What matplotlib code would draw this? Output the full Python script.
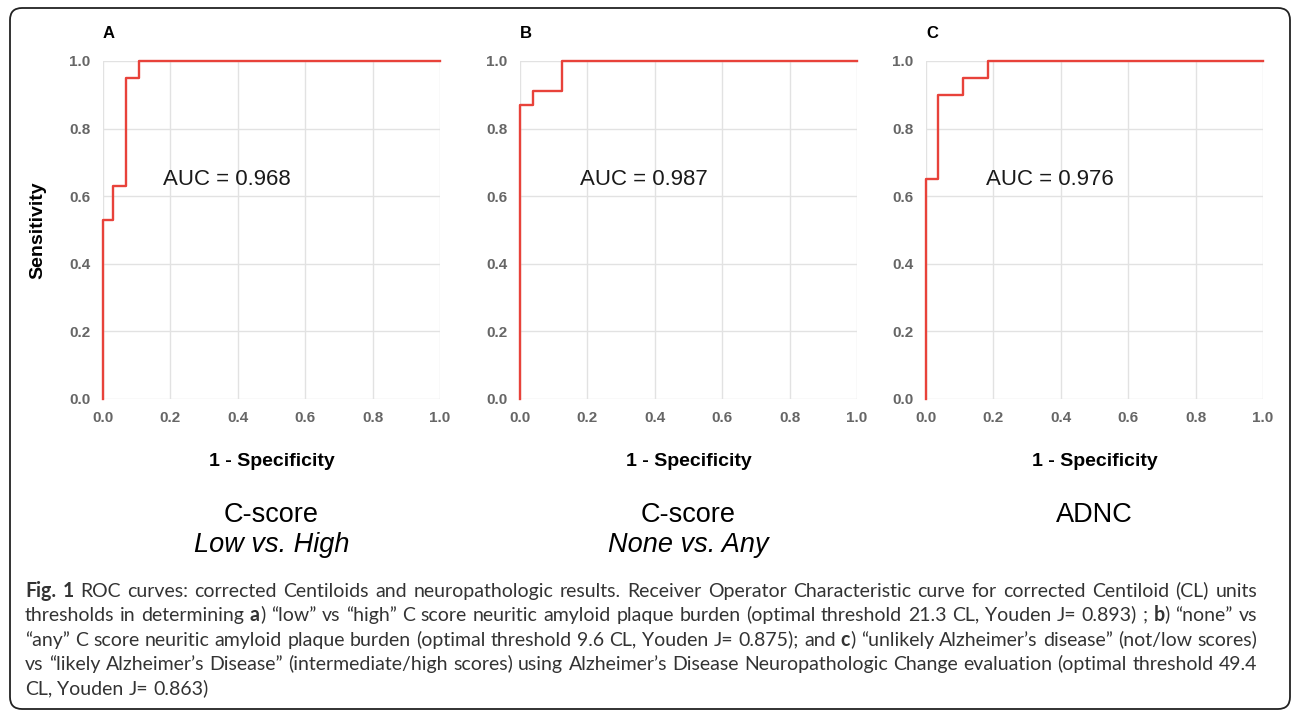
import matplotlib
matplotlib.use('Agg')
import matplotlib.pyplot as plt
from matplotlib.patches import FancyBboxPatch
from matplotlib.transforms import IdentityTransform
from matplotlib.font_manager import FontProperties
from matplotlib.backends.backend_agg import get_hinting_flag

plt.rcParams['font.family'] = ['Liberation Sans', 'DejaVu Sans']

# ROC corner points (1 - specificity, sensitivity), drawn as post steps
fpr_a = [0.0, 0.0, 0.031, 0.067, 0.106, 1.0]
tpr_a = [0.0, 0.53, 0.63, 0.95, 1.0, 1.0]
fpr_b = [0.0, 0.0, 0.040, 0.124, 1.0]
tpr_b = [0.0, 0.87, 0.91, 1.0, 1.0]
fpr_c = [0.0, 0.0, 0.037, 0.111, 0.185, 1.0]
tpr_c = [0.0, 0.65, 0.90, 0.95, 1.0, 1.0]

panel_letters = ['A', 'B', 'C']
auc_values = [0.968, 0.987, 0.976]
titles = ['C-score', 'C-score', 'ADNC']
subtitles = ['Low vs. High', 'None vs. Any', '']
ticks = [0.0, 0.2, 0.4, 0.6, 0.8, 1.0]
tick_labels = ['0.0', '0.2', '0.4', '0.6', '0.8', '1.0']

caption_lines = [
    [('Fig. 1', True), (' ROC curves: corrected Centiloids and neuropathologic results. Receiver Operator '
                        'Characteristic curve for corrected Centiloid (CL) units', False)],
    [('thresholds in determining ', False), ('a', True),
     (') \u201clow\u201d vs \u201chigh\u201d C score neuritic amyloid plaque burden (optimal threshold 21.3 CL, '
      'Youden J= 0.893) ; ', False), ('b', True), (') \u201cnone\u201d vs', False)],
    [('\u201cany\u201d C score neuritic amyloid plaque burden (optimal threshold 9.6 CL, Youden J= 0.875); and ', False),
     ('c', True), (') \u201cunlikely Alzheimer\u2019s disease\u201d (not/low scores)', False)],
    [('vs \u201clikely Alzheimer\u2019s Disease\u201d (intermediate/high scores) using Alzheimer\u2019s Disease '
      'Neuropathologic Change evaluation (optimal threshold 49.4', False)],
    [('CL, Youden J= 0.863)', False)],
]

W, H = 1292, 711
fig = plt.figure(figsize=(W / 100, H / 100), dpi=100)
fig.patch.set_facecolor('white')

red = '#e8423a'
curves = [(fpr_a, tpr_a), (fpr_b, tpr_b), (fpr_c, tpr_c)]
ax_left_px = [103, 520, 926]
ax_w, ax_h, ax_bottom_px = 337, 338, 399

for i, (fpr, tpr) in enumerate(curves):
    ax = fig.add_axes([ax_left_px[i] / W, (H - ax_bottom_px) / H, ax_w / W, ax_h / H])
    ax.step(fpr, tpr, where='post', color=red, lw=1.7, clip_on=False, zorder=3)
    ax.set_xlim(0, 1)
    ax.set_ylim(0, 1)
    ax.set_xticks(ticks)
    ax.set_yticks(ticks)
    ax.set_xticklabels(tick_labels, fontweight='bold')
    ax.set_yticklabels(tick_labels, fontweight='bold')
    ax.tick_params(length=0, pad=9, labelsize=11, labelcolor='#666666')
    ax.grid(True, color='#e2e2e2', lw=1.0)
    ax.set_axisbelow(True)
    for s in ax.spines.values():
        s.set_visible(False)

    ax.text(0.178, 0.648, f'AUC = {auc_values[i]:.3f}', fontsize=16, va='center', color='#1a1a1a')
    ax.text(0.0, (ax_bottom_px - 34) / ax_h, panel_letters[i], fontsize=12, fontweight='bold',
            va='center', ha='left')
    ax.text(0.5, (ax_bottom_px - 461) / ax_h, '1 - Specificity', fontsize=14, fontweight='bold',
            ha='center', va='center')
    ax.text(0.5, (ax_bottom_px - 515) / ax_h, titles[i], fontsize=19.5, ha='center', va='center')
    if subtitles[i]:
        ax.text(0.5, (ax_bottom_px - 545) / ax_h, subtitles[i], fontsize=19.5, style='italic',
                ha='center', va='center')
    if i == 0:
        ax.text((38 - ax_left_px[0]) / ax_w, 0.5, 'Sensitivity', fontsize=14, fontweight='bold',
                rotation=90, ha='center', va='center')

# rounded frame around the figure
frame = FancyBboxPatch((10, 2), 1280, 701, boxstyle='round,pad=0,rounding_size=12',
                       transform=IdentityTransform(), fill=False, lw=1.3, ec='#222222')
fig.patches.append(frame)

# caption, justified word by word
renderer = fig.canvas.get_renderer()
cap_font = 'Lato'
cap_color = '#333333'


def text_width(s, bold, size):
    t = fig.text(0, 0, s, fontsize=size, family=cap_font, fontweight='bold' if bold else 'normal')
    w = t.get_window_extent(renderer).width
    t.remove()
    return w


def baseline_shift(s, bold, size):
    # Agg snaps each word's bitmap to whole pixels; undo the offset so words share a baseline
    try:
        prop = FontProperties(family=cap_font, weight='bold' if bold else 'normal', size=size)
        font = renderer._prepare_font(prop)
        font.set_text(s, 0, flags=get_hinting_flag())
        _, hh = font.get_width_height()
        hh /= 64.0
        d = font.get_descent() / 64.0
        ymax = hh - d
        return round(d) - int(hh) + int(ymax)
    except Exception:
        return 0


def split_words(runs):
    words = [[]]
    for text, bold in runs:
        parts = text.split(' ')
        for j, p in enumerate(parts):
            if j > 0:
                words.append([])
            if p:
                words[-1].append((p, bold))
    return [w for w in words if w]


def natural_width(runs, size):
    words = split_words(runs)
    sp = text_width('a a', False, size) - text_width('aa', False, size)
    total = sum(text_width(p, b, size) for w in words for p, b in w)
    return total + sp * (len(words) - 1)


base = 12
w_long = max(natural_width(l, base) for l in caption_lines[:-1])
cap_size = base * 1226 / w_long

x0, x1 = 25, 1257
baseline_y = [597, 621, 646, 670, 695]
space_w = text_width('a a', False, cap_size) - text_width('aa', False, cap_size)
for k, runs in enumerate(caption_lines):
    words = split_words(runs)
    widths = [[text_width(p, b, cap_size) for p, b in w] for w in words]
    total = sum(sum(w) for w in widths)
    if k < len(caption_lines) - 1:
        gap = (x1 - x0 - total) / (len(words) - 1)
    else:
        gap = space_w
    x = x0
    for w, ws in zip(words, widths):
        for (p, b), pw in zip(w, ws):
            dy = baseline_shift(p, b, cap_size)
            fig.text(x / W, (H - baseline_y[k] + dy) / H, p, fontsize=cap_size, family=cap_font,
                     fontweight='bold' if b else 'normal', color=cap_color,
                     va='baseline', ha='left')
            x += pw
        x += gap

fig.savefig('out.png', dpi=100)
